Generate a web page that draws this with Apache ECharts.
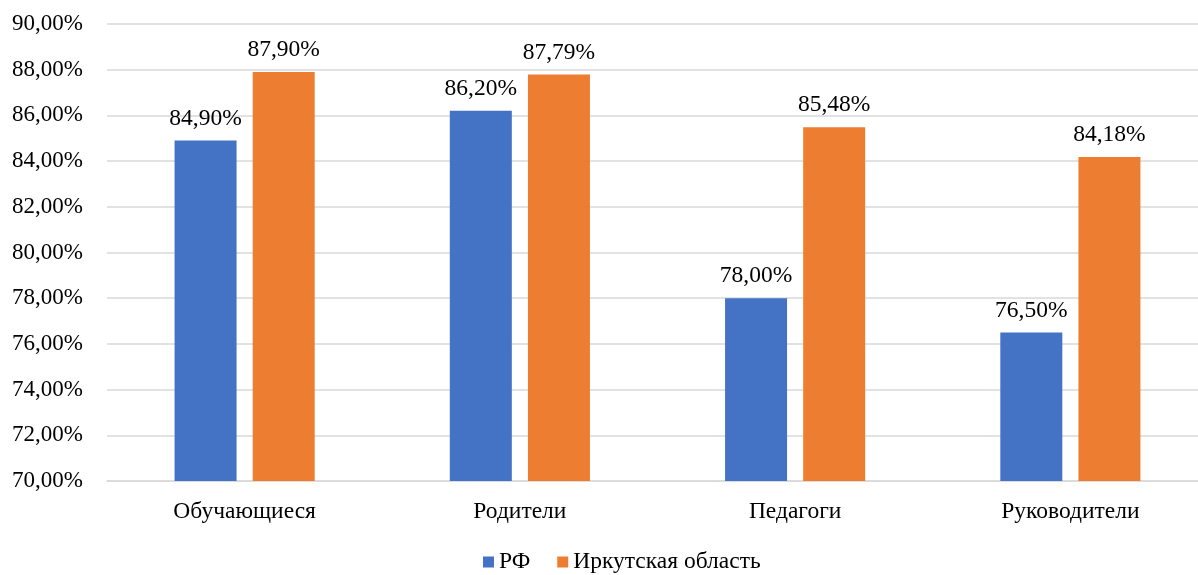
<!DOCTYPE html>
<html><head><meta charset="utf-8">
<script src="https://cdn.jsdelivr.net/npm/echarts@6/dist/echarts.min.js"></script>
<style>html,body{margin:0;padding:0;background:#fff;overflow:hidden}#c{width:1208px;height:575px}</style>
</head><body><div id="c"></div>
<script>
const categories = ['Обучающиеся', 'Родители', 'Педагоги', 'Руководители'];
const seriesNames = ['РФ', 'Иркутская область'];
const rfValues = [84.90, 86.20, 78.00, 76.50];
const irkValues = [87.90, 87.79, 85.48, 84.18];
const yMin = 70, yMax = 90, yStep = 2;

const fmt = v => Number(v).toFixed(2).replace('.', ',') + '%';
const font = '"Liberation Serif", "Times New Roman", serif';

const chart = echarts.init(document.getElementById('c'));
const lbl = {
  show: true, position: 'top', distance: 10,
  formatter: p => fmt(p.value), fontFamily: font, fontSize: 23.5, color: '#000'
};
chart.setOption({
  animation: false,
  textStyle: { fontFamily: font },
  grid: { left: 107, right: 0, top: 24, bottom: 94 },
  legend: {
    bottom: -4, left: 478, itemWidth: 11, itemHeight: 11, itemGap: 27,
    icon: 'rect',
    textStyle: { fontFamily: font, fontSize: 23.5, color: '#000' },
    data: seriesNames
  },
  xAxis: {
    type: 'category', data: categories,
    axisLine: { lineStyle: { color: '#d9d9d9', width: 1.5 } },
    axisTick: { show: false },
    axisLabel: { fontFamily: font, fontSize: 23.5, color: '#000', margin: 19 }
  },
  yAxis: {
    type: 'value', min: yMin, max: yMax, interval: yStep,
    axisLine: { show: false }, axisTick: { show: false },
    splitLine: { lineStyle: { color: '#d9d9d9', width: 1.5 } },
    axisLabel: { fontFamily: font, fontSize: 23, color: '#000', margin: 24, formatter: v => fmt(v) }
  },
  series: [
    { name: seriesNames[0], type: 'bar', data: rfValues, itemStyle: { color: '#4472C4' },
      barWidth: 62, barGap: '26%', label: lbl },
    { name: seriesNames[1], type: 'bar', data: irkValues, itemStyle: { color: '#ED7D31' },
      barWidth: 62, label: lbl }
  ]
});
</script></body></html>
